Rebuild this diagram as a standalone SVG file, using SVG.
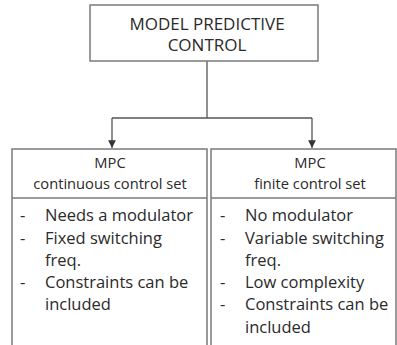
<svg xmlns="http://www.w3.org/2000/svg" width="397" height="345" viewBox="0 0 397 345">
<defs>
<style>
.box{fill:#fff;stroke:#7a7a7a;stroke-width:1.5}
.ln{fill:none;stroke:#555;stroke-width:1.3}
.t{font-family:"Open Sans","Liberation Sans",sans-serif;fill:#2a2a2a}
.h{font-size:14.7px;text-anchor:middle}
.top{font-size:17px;text-anchor:middle}
.li{font-size:16.5px}
</style>
<marker id="ah" viewBox="0 0 10 10" refX="10" refY="5" markerWidth="6" markerHeight="6" orient="auto">
<path d="M0,0 L10,5 L0,10 z" fill="#333"/>
</marker>
</defs>
<g id="connectors">
<path class="ln" d="M207,61 V118"/>
<path class="ln" d="M112,118 H312"/>
<path class="ln" d="M112,118 V148" marker-end="url(#ah)"/>
<path class="ln" d="M312,118 V148" marker-end="url(#ah)"/>
</g>
<g id="mpc">
<rect class="box" x="90" y="5" width="228" height="56"/>
<text class="t top" x="207" y="30">MODEL PREDICTIVE</text>
<text class="t top" x="207" y="51">CONTROL</text>
</g>
<g id="ccs">
<path class="box" d="M12,350 V149 H207 V350"/>
<path class="box" d="M12,198 H207"/>
<text class="t h" x="110" y="168">MPC</text>
<text class="t h" x="110" y="189">continuous control set</text>
<text class="t li" x="20" y="221">-</text>
<text class="t li" x="45" y="221">Needs a modulator</text>
<text class="t li" x="20" y="244">-</text>
<text class="t li" x="45" y="244">Fixed switching</text>
<text class="t li" x="45" y="266">freq.</text>
<text class="t li" x="20" y="288">-</text>
<text class="t li" x="45" y="288">Constraints can be</text>
<text class="t li" x="45" y="310">included</text>
</g>
<g id="fcs">
<path class="box" d="M211,350 V149 H396 V350"/>
<path class="box" d="M211,198 H396"/>
<text class="t h" x="310" y="168">MPC</text>
<text class="t h" x="310" y="189">finite control set</text>
<text class="t li" x="220" y="221">-</text>
<text class="t li" x="245" y="221">No modulator</text>
<text class="t li" x="220" y="244">-</text>
<text class="t li" x="245" y="244">Variable switching</text>
<text class="t li" x="245" y="266">freq.</text>
<text class="t li" x="220" y="288">-</text>
<text class="t li" x="245" y="288">Low complexity</text>
<text class="t li" x="220" y="310">-</text>
<text class="t li" x="245" y="310">Constraints can be</text>
<text class="t li" x="245" y="333">included</text>
</g>
</svg>
